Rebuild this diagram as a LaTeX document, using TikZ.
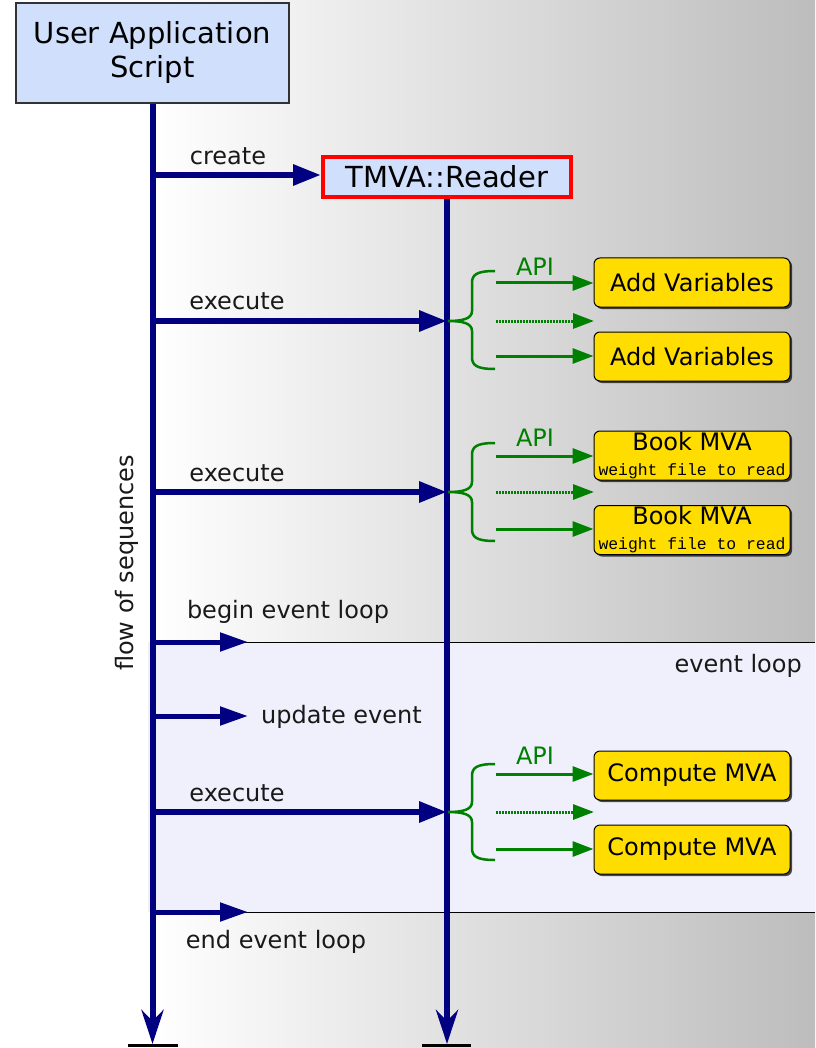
\documentclass[tikz,border=0pt]{standalone}
\usepackage{fontspec}
\setmainfont{DejaVu Sans}
\newfontfamily\monof{Liberation Mono}
\usetikzlibrary{arrows.meta,shadows}
\definecolor{navy}{RGB}{0,0,128}
\definecolor{grn}{RGB}{0,128,0}
\definecolor{boxblue}{RGB}{208,224,252}
\definecolor{yel}{RGB}{255,221,0}
\definecolor{evfill}{RGB}{240,240,252}
\tikzset{
  big/.style={font=\fontsize{29}{34}\selectfont},
  lbl/.style={font=\fontsize{24}{28}\selectfont, text=black!90, inner sep=0pt},
  apilbl/.style={font=\fontsize{24}{28}\selectfont, text=grn, inner sep=0pt},
  life/.style={draw=navy, line width=6pt, -{Stealth[length=34pt,width=22pt]}},
  msg/.style={draw=navy, line width=6pt, -{Triangle[length=28pt,width=20pt]}},
  shortmsg/.style={draw=navy, line width=5pt, -{Triangle[length=28pt,width=18pt]}},
  gapi/.style={draw=grn, line width=3pt, -{Triangle[length=21pt,width=15pt]}},
  gdot/.style={draw=grn, line width=3pt, dash pattern=on 2pt off 1pt, -{Triangle[length=21pt,width=15pt]}},
  gbrace/.style={draw=grn, line width=2.5pt},
  ybox/.style={draw=black, line width=1pt, fill=yel, rounded corners=6pt,
    minimum width=196pt, minimum height=49pt, inner sep=0pt,
    font=\fontsize{24}{28}\selectfont, align=center,
    drop shadow={shadow xshift=2pt, shadow yshift=-2pt, fill=black, opacity=0.7}},
  endbar/.style={draw=black, line width=3pt}
}
\newcommand{\gbr}[3]{% mid, top, bottom
  \draw[gbrace] (495,#2) .. controls (476,#2) and (472,#2+4) .. (472,#2+12)
    -- (472,#1-10) .. controls (472,#1-2) and (462,#1) .. (448,#1)
    .. controls (462,#1) and (472,#1+2) .. (472,#1+10)
    -- (472,#3-12) .. controls (472,#3-4) and (476,#3) .. (495,#3);}
\newcommand{\wfr}{{\monof\fontsize{16.4}{17}\selectfont weight file to read}}
\begin{document}
\begin{tikzpicture}[x=1pt,y=-1pt]
% background
\fill[white] (0,0) rectangle (815,1048);
\shade[left color=white, right color=black!26] (150,0) rectangle (815,1048);
\useasboundingbox (0,0) rectangle (815,1048);
% event loop band
\fill[evfill] (148,642) rectangle (815,912);
\draw[black, line width=1pt] (152,642) -- (815,642);
\draw[black, line width=1pt] (152,912) -- (815,912);
\node[lbl, anchor=east] (evl) at (802,666) {event loop};

% main nodes
\node[draw=black!80, line width=1.2pt, fill=boxblue, minimum width=273pt, minimum height=100pt,
  align=center, big, inner sep=0pt] (user) at (152.5,53) {User Application\\Script};
\node[draw=red, line width=4pt, fill=boxblue, minimum width=248pt, minimum height=40pt,
  inner sep=0pt, font=\fontsize{29}{34}\selectfont] (reader) at (447,177) {TMVA::Reader};

% lifelines
\coordinate (uEnd) at (152.5,1044);
\coordinate (rEnd) at (447,1044);
\coordinate (ub1) at (128,1045); \coordinate (ub2) at (178,1045);
\coordinate (rb1) at (422,1045); \coordinate (rb2) at (471,1045);
\draw[endbar] (ub1) -- (ub2);
\draw[endbar] (rb1) -- (rb2);
\draw[life] (user.south) -- (uEnd);
\draw[life] (reader.south) -- (rEnd);

% create
\coordinate (c0) at (152.5,175);
\draw[msg] (c0) -- (c0 -| reader.west);
\node[lbl] (lcreate) at (228,156) {create};

% flow of sequences
\node[lbl, rotate=90] (flow) at (127,563) {flow of sequences};

% execute 1
\coordinate (e1a) at (152.5,321); \coordinate (e1b) at (447,321);
\draw[msg] (e1a) -- (e1b);
\node[lbl] (lex1) at (237,301) {execute};
\gbr{321}{271}{369}
\node[ybox] (av1) at (692,282.5) {Add Variables};
\node[ybox] (av2) at (692,356.5) {Add Variables};
\coordinate (g1a) at (496,283); \coordinate (g1b) at (496,321); \coordinate (g1c) at (496,356);
\coordinate (g1d) at (594,321);
\draw[gapi] (g1a) -- (g1a -| av1.west);
\draw[gdot] (g1b) -- (g1d);
\draw[gapi] (g1c) -- (g1c -| av2.west);
\node[apilbl] (api1) at (535,267) {API};

% execute 2
\coordinate (e2a) at (152.5,492); \coordinate (e2b) at (447,492);
\draw[msg] (e2a) -- (e2b);
\node[lbl] (lex2) at (237,473) {execute};
\gbr{492}{443}{541}
\node[ybox] (bm1) at (692,455.5) {Book MVA\\[-3pt]\wfr};
\node[ybox] (bm2) at (692,530) {Book MVA\\[-3pt]\wfr};
\coordinate (g2a) at (496,456); \coordinate (g2b) at (496,492); \coordinate (g2c) at (496,529);
\coordinate (g2d) at (594,492);
\draw[gapi] (g2a) -- (g2a -| bm1.west);
\draw[gdot] (g2b) -- (g2d);
\draw[gapi] (g2c) -- (g2c -| bm2.west);
\node[apilbl] (api2) at (535,438) {API};

% begin event loop
\coordinate (b0) at (152.5,642); \coordinate (b1) at (248,642);
\draw[shortmsg] (b0) -- (b1);
\node[lbl] (lbegin) at (288,612) {begin event loop};

% update event
\coordinate (u0) at (152.5,716); \coordinate (u1) at (248,716);
\draw[shortmsg] (u0) -- (u1);
\node[lbl, anchor=west] (lupd) at (261,717) {update event};

% execute 3
\coordinate (e3a) at (152.5,812); \coordinate (e3b) at (447,812);
\draw[msg] (e3a) -- (e3b);
\node[lbl] (lex3) at (237,793) {execute};
\gbr{812}{764}{860}
\node[ybox] (cm1) at (692,775.5) {Compute MVA};
\node[ybox] (cm2) at (692,849.5) {Compute MVA};
\coordinate (g3a) at (496,774); \coordinate (g3b) at (496,812); \coordinate (g3c) at (496,849);
\coordinate (g3d) at (594,812);
\draw[gapi] (g3a) -- (g3a -| cm1.west);
\draw[gdot] (g3b) -- (g3d);
\draw[gapi] (g3c) -- (g3c -| cm2.west);
\node[apilbl] (api3) at (535,756) {API};

% end event loop
\coordinate (n0) at (152.5,912); \coordinate (n1) at (248,912);
\draw[shortmsg] (n0) -- (n1);
\node[lbl] (lend) at (276,942) {end event loop};
\end{tikzpicture}
\end{document}
